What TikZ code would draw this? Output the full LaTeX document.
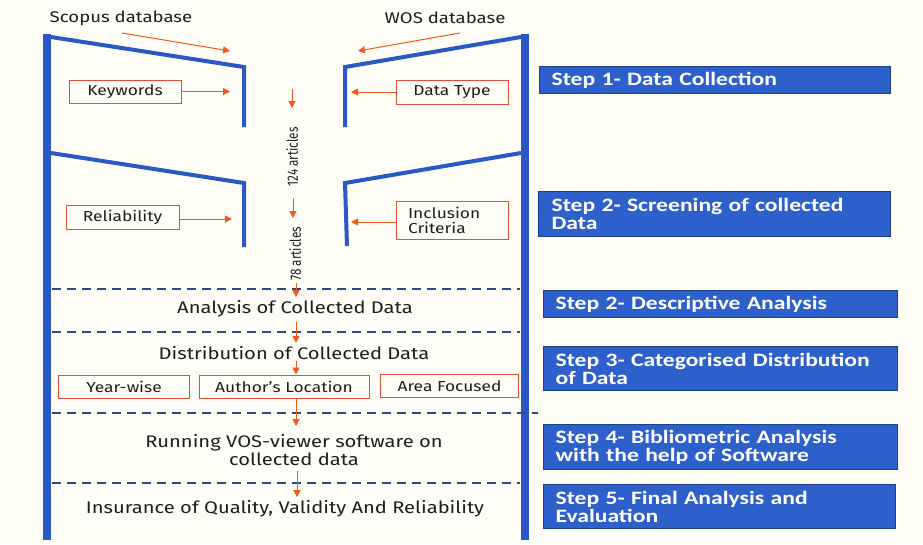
\documentclass[tikz,border=0pt]{standalone}
\usepackage{fontspec}
\setmainfont{Fira Sans}[FakeStretch=1.2]
\newfontfamily\artfont{Fira Sans}[FakeStretch=0.78]
\newfontfamily\stepfont{Carlito}[FakeStretch=1.25]
\usetikzlibrary{arrows.meta}
\definecolor{bg}{HTML}{FEFDF6}
\definecolor{wall}{HTML}{2A58C4}
\definecolor{sepblue}{HTML}{2B4A8A}
\definecolor{org}{HTML}{F05A1E}
\definecolor{boxr}{HTML}{E04E3A}
\definecolor{stepfill}{HTML}{2E60CC}
\definecolor{stepedge}{HTML}{1E3F8F}
\definecolor{txt}{HTML}{1E1E1E}
\tikzset{
  wallline/.style={draw=wall,line width=4pt},
  sideline/.style={draw=wall,line width=8pt},
  sep/.style={draw=sepblue,line width=1.2pt,dash pattern=on 9pt off 6pt},
  arr/.style={draw=org,line width=1pt,-{Triangle[length=7pt,width=7pt]}},
  lbox/.style={draw=boxr,line width=1pt,fill=bg,font=\fontsize{14.5}{15}\selectfont,text=txt,inner sep=0pt},
  lbl/.style={font=\fontsize{16.8}{14}\selectfont,text=txt,align=center},
  toplbl/.style={font=\fontsize{15.5}{16}\selectfont,text=txt},
  stepbox/.style={draw=stepedge,line width=1.2pt,fill=stepfill,text=white,anchor=north west,
     font=\stepfont\bfseries\fontsize{18.9}{18}\selectfont,align=left,text width=#1,inner sep=0pt},
  art/.style={font=\artfont\fontsize{15}{16}\selectfont,text=txt,rotate=90}
}
\begin{document}
\begin{tikzpicture}[x=1pt,y=-1pt]
\fill[bg] (0,0) rectangle (923,544);
\useasboundingbox (0,0) rectangle (923,544);
% side walls
\draw[sideline] (47,34) -- (47,540);
\draw[sideline] (525,34) -- (525,540);
% funnel 1
\draw[wallline] (51,37) -- (244,67) -- (244,127);
\draw[wallline] (521,37) -- (345,67) -- (345,127);
% funnel 2
\draw[wallline] (51,153) -- (244,183) -- (244,247);
\draw[wallline] (521,153) -- (345,183) -- (347,246);
% separators
\draw[sep] (52,289) -- (520,289);
\draw[sep] (52,332) -- (520,332);
\draw[sep] (52,413) -- (538,413);
\draw[sep] (52,483) -- (520,483);
% top labels
\node[toplbl] (scopus) at (121,18) {Scopus database};
\node[toplbl] (wos) at (445,18) {WOS database};
\coordinate (sc1) at (122,33); \coordinate (sc2) at (230,51);
\coordinate (ws1) at (460,33); \coordinate (ws2) at (358,51);
\draw[arr] (sc1) -- (sc2);
\draw[arr] (ws1) -- (ws2);
% side boxes
\node[lbox,minimum width=112pt,minimum height=23pt] (kw) at (125,91.5) {Keywords};
\node[lbox,minimum width=112pt,minimum height=24pt] (dt) at (452,92) {Data Type};
\node[lbox,minimum width=113pt,minimum height=24pt] (rel) at (122.5,217.5) {Reliability};
\node[lbox,minimum width=112pt,minimum height=38pt,align=left,text width=88pt] (inc) at (452,220) {Inclusion\\Criteria};
\coordinate (kwT) at (230,91.5);
\coordinate (dtT) at (351,92);
\coordinate (relT) at (232,219);
\coordinate (incT) at (351,222);
\draw[arr] (kw.east |- kwT) -- (kwT);
\draw[arr] (dt.west |- dtT) -- (dtT);
\draw[arr] (rel.east |- relT) -- (relT);
\draw[arr] (inc.west |- incT) -- (incT);
% article counts
\coordinate (a1) at (292,89);
\coordinate (a1e) at (292,108);
\node[art] (n124) at (292,157) {124 articles};
\coordinate (a2) at (293,198);
\coordinate (a2e) at (293,218);
\node[art] (n78) at (295,254) {78 articles};
\draw[arr] (a1) -- (a1e);
\draw[arr] (a2) -- (a2e);
% flow
\node[lbl] (anal) at (295,309) {Analysis of Collected Data};
\node[lbl] (dist) at (294,353) {Distribution of Collected Data};
\node[lbox,minimum width=131pt,minimum height=23pt] (yw) at (124,386.5) {Year-wise};
\node[lbox,minimum width=170pt,minimum height=23pt] (al) at (284,386.5) {Author's Location};
\node[lbox,minimum width=138pt,minimum height=23pt] (af) at (449.5,386) {Area Focused};
\node[lbl] (vos) at (294,450) {Running VOS-viewer software on\\[0pt]collected data};
\node[lbl] (ins) at (285,509) {Insurance of Quality, Validity And Reliability};
\coordinate (f0) at (296,283);
\draw[arr] (f0) -- (anal.north -| f0);
\coordinate (f1) at (296,322);
\draw[arr] (f1) -- (dist.north -| f1);
\coordinate (f2) at (296,361);
\draw[arr] (f2) -- (al.north -| f2);
\coordinate (f3) at (296,399);
\coordinate (f3e) at (296,426);
\draw[arr] (f3) -- (f3e);
\coordinate (f4) at (297,471);
\draw[arr] (f4) -- (ins.north -| f4);
% step boxes
\node[stepbox=351pt,minimum height=27pt] (s1) at (539,66) {\hspace*{12pt}Step 1- Data Collection};
\node[stepbox=352pt,minimum height=45pt] (s2) at (538,191) {\hspace*{13pt}\parbox{330pt}{\raggedright Step 2- Screening of collected\\Data}};
\node[stepbox=354pt,minimum height=27pt] (s3) at (543,290) {\hspace*{12pt}Step 2- Descriptive Analysis};
\node[stepbox=354pt,minimum height=44pt] (s4) at (543,346) {\hspace*{12pt}\parbox{335pt}{\raggedright Step 3- Categorised Distribution\\of Data}};
\node[stepbox=354pt,minimum height=45pt] (s5) at (543,424) {\hspace*{12pt}\parbox{335pt}{\raggedright Step 4- Bibliometric Analysis\\with the help of Software}};
\node[stepbox=352pt,minimum height=44pt] (s6) at (543,484) {\hspace*{12pt}\parbox{335pt}{\raggedright Step 5- Final Analysis and\\Evaluation}};
\end{tikzpicture}
\end{document}
